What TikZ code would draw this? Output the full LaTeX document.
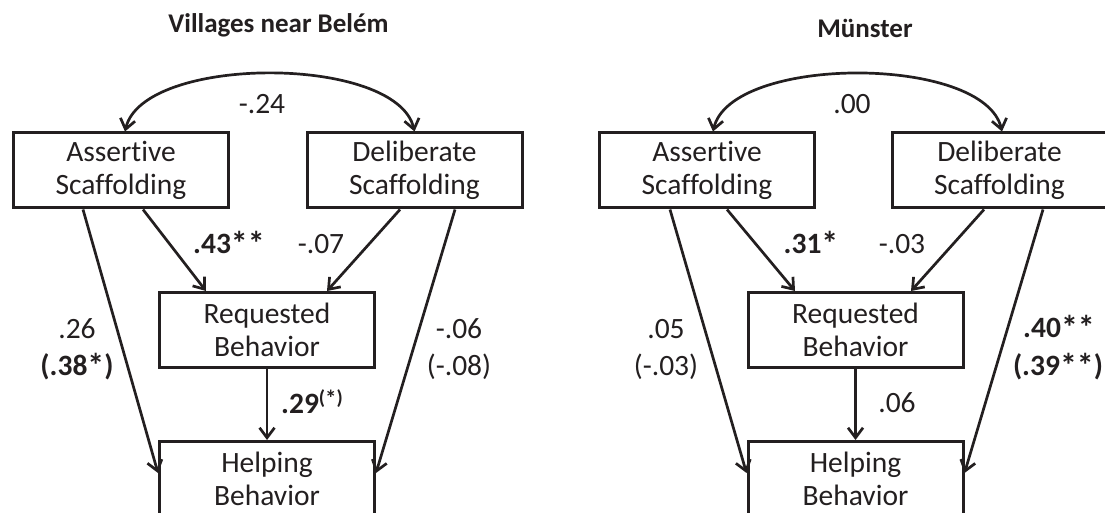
\documentclass[tikz,border=0pt]{standalone}
\usepackage{fontspec}
\setmainfont{Carlito}[Ligatures=NoCommon]
\usetikzlibrary{arrows.meta,calc}
\definecolor{ink}{RGB}{35,31,32}
\newcommand\bigast{\raisebox{-2pt}{\scalebox{1.15}{*}}}
\begin{document}
\begin{tikzpicture}[x=1pt,y=1pt,
  box/.style={draw=ink, line width=3pt, minimum width=215pt, minimum height=75pt,
    align=center, inner sep=0pt, font=\fontsize{29.5}{33.5}\selectfont, text=ink},
  lbl/.style={font=\fontsize{29.5}{33}\selectfont, text=ink, inner sep=0pt, anchor=base},
  blbl/.style={font=\fontsize{29.5}{33}\selectfont\bfseries, text=ink, inner sep=0pt, anchor=base},
  arr/.style={draw=ink, line width=2.7pt, -{Straight Barb[length=10pt,width=15pt]}},
  biarr/.style={draw=ink, line width=2.7pt,
    {Straight Barb[length=10pt,width=15pt]}-{Straight Barb[length=10pt,width=15pt]}},
  ttl/.style={font=\fontsize{27}{33}\selectfont\bfseries, text=ink, anchor=base, inner sep=0pt}]
\useasboundingbox (0,0) rectangle (1105,512);
\clip (0,0) rectangle (1105,512);

% ---------- Left panel ----------
\node[ttl] (tL) at (278.5,479) {Villages near Belém};
\node[box] (AL) at (121,341.5) {Assertive\\Scaffolding};
\node[box] (DL) at (414.5,341.5) {Deliberate\\Scaffolding};
\node[box] (RL) at (267,182) {Requested\\Behavior};
\node[box] (HL) at (267,33) {Helping\\Behavior};

\draw[biarr] ($(AL.north)+(4,0)$) to[out=77,in=103,looseness=0.7] ($(DL.north)+(0,0)$);
\draw[arr] ($(AL.south)+(22,0)$) -- ($(RL.north)+(-61,0)$);
\draw[arr] ($(DL.south)+(-14.5,0)$) -- ($(RL.north)+(60,0)$);
\draw[arr] ($(AL.south)+(-38,0)$) -- ($(HL.west)+(0,6)$);
\draw[arr] ($(DL.south)+(40.5,0)$) -- ($(HL.east)+(0,6)$);
\draw[arr] (RL.south) -- (HL.north);

\node[lbl] (l24) at (262,398.5) {-.24};
\node[blbl] (l43) at (229,258.5) {.43\bigast\bigast};
\node[lbl] (l07) at (321,258.5) {-.07};
\node[lbl] (l26) at (77,173.5) {.26};
\node[blbl] (l38) at (77,136.5) {(.38\bigast)};
\node[lbl] (l06) at (459,173.5) {-.06};
\node[lbl] (l08) at (459,136.5) {(-.08)};
\node[blbl, anchor=base west] (l29) at (281,98.5) {.29\raisebox{9pt}{\fontsize{20}{20}\selectfont(\bigast)}};

% ---------- Right panel ----------
\node[ttl] (tR) at (865,474) {Münster};
\node[box] (AR) at (707,341.5) {Assertive\\Scaffolding};
\node[box] (DR) at (999.5,341.5) {Deliberate\\Scaffolding};
\node[box] (RR) at (855.5,182) {Requested\\Behavior};
\node[box] (HR) at (855.5,33) {Helping\\Behavior};

\draw[biarr] ($(AR.north)+(6,0)$) to[out=77,in=103,looseness=0.7] ($(DR.north)+(2.5,0)$);
\draw[arr] ($(AR.south)+(20,0)$) -- ($(RR.north)+(-60.5,0)$);
\draw[arr] ($(DR.south)+(-15.5,0)$) -- ($(RR.north)+(55.5,0)$);
\draw[arr] ($(AR.south)+(-37,0)$) -- ($(HR.west)+(0,6)$);
\draw[arr] ($(DR.south)+(43.5,0)$) -- ($(HR.east)+(0,6)$);
\draw[arr] (RR.south) -- (HR.north);

\node[lbl] (r00) at (852,398.5) {.00};
\node[blbl] (r31) at (811,258.5) {.31\bigast};
\node[lbl] (r03) at (902,258.5) {-.03};
\node[lbl] (r05) at (666,173.5) {.05};
\node[lbl] (r03b) at (666,136.5) {(-.03)};
\node[blbl] (r40) at (1059,175) {.40\bigast\bigast};
\node[blbl] (r39) at (1058,136.5) {(.39\bigast\bigast)};
\node[lbl] (r06) at (897,100) {.06};
\end{tikzpicture}
\end{document}
